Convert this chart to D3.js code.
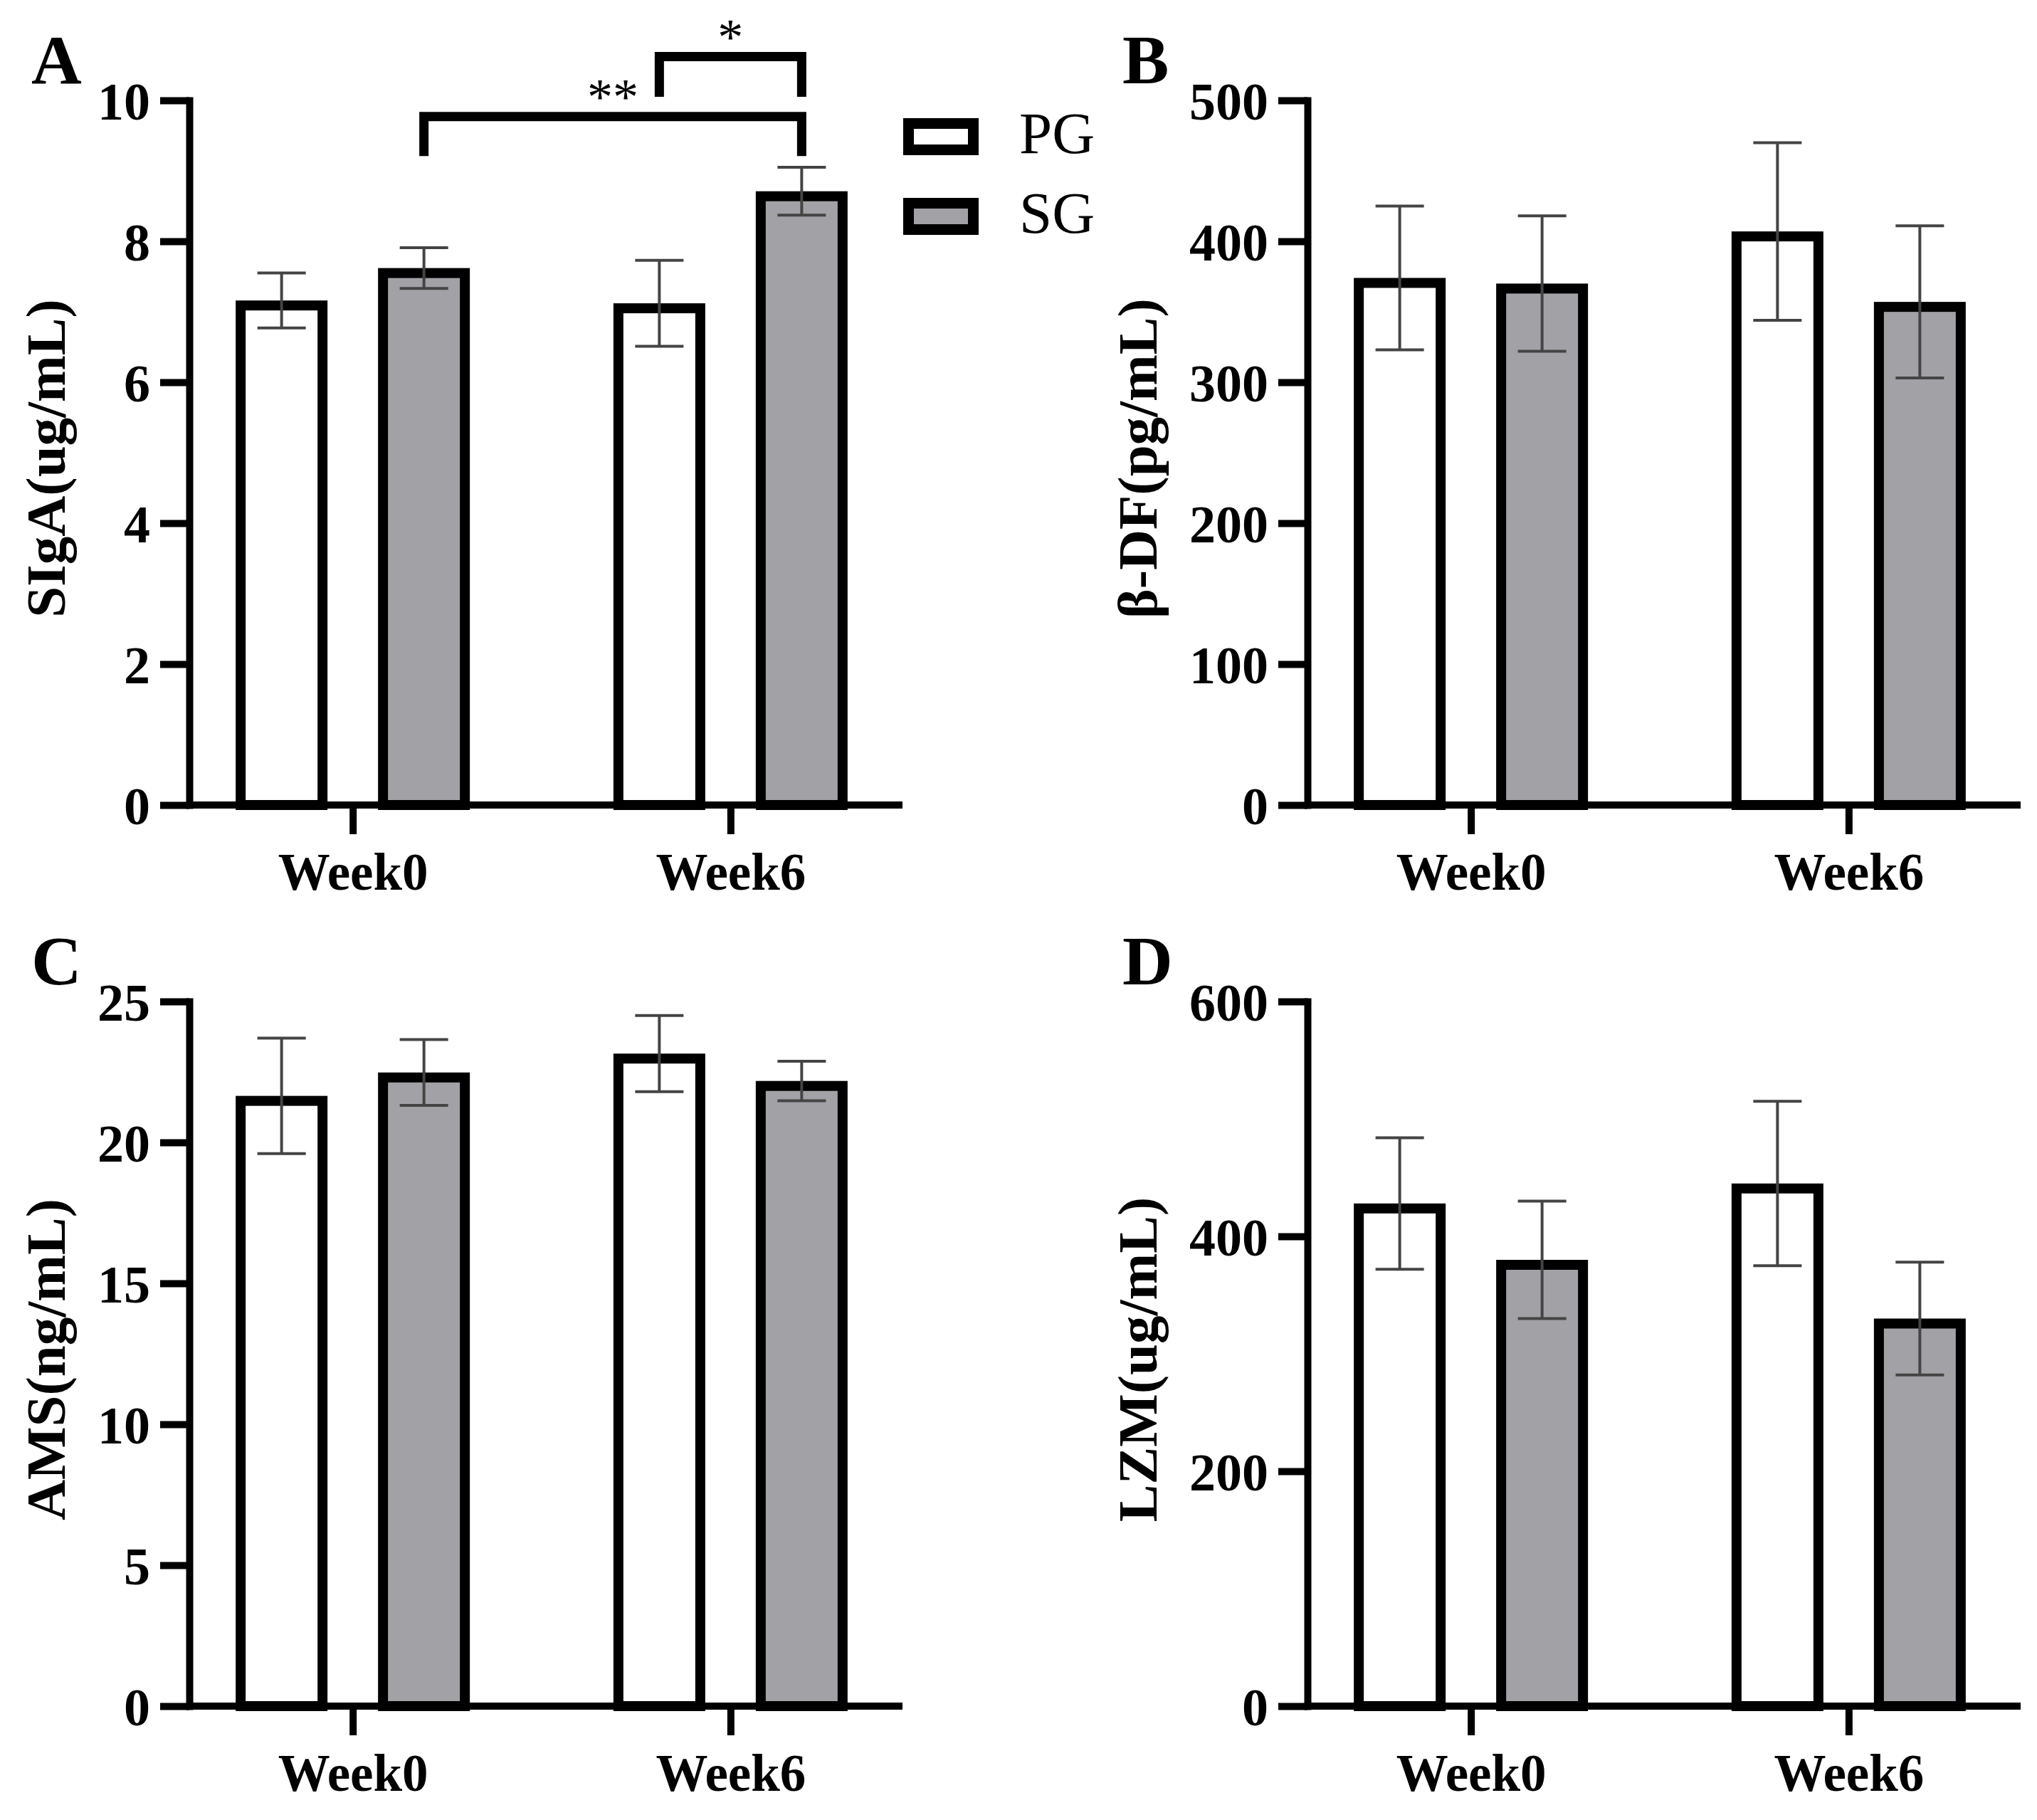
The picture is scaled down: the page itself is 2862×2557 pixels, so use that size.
<!DOCTYPE html>
<html>
<head>
<meta charset="utf-8">
<script src="https://cdn.jsdelivr.net/npm/d3@7"></script>
<style>
    body { margin: 0; background: #fff; }
    text { font-family: "Liberation Serif", "Times New Roman", serif; }
</style>
</head>
<body>
<script>
// groups on the x axis and the two series
var groups = ["Week0", "Week6"];
var series = ["PG", "SG"];

// A: SIgA
var sigaPG = [7.16, 7.12], sigaPGErr = [0.39, 0.61];
var sigaSG = [7.62, 8.71], sigaSGErr = [0.29, 0.34];
var sigaTicks = [0, 2, 4, 6, 8, 10];

// B: beta-DF
var dfPG = [374, 407], dfPGErr = [51, 63];
var dfSG = [370, 357], dfSGErr = [48, 54];
var dfTicks = [0, 100, 200, 300, 400, 500];

// C: AMS
var amsPG = [21.65, 23.15], amsPGErr = [2.05, 1.35];
var amsSG = [22.48, 22.18], amsSGErr = [1.17, 0.7];
var amsTicks = [0, 5, 10, 15, 20, 25];

// D: LZM
var lzmPG = [428, 445], lzmPGErr = [56, 70];
var lzmSG = [380, 330], lzmSGErr = [50, 48];
var lzmTicks = [0, 200, 400, 600];

// significance brackets for panel A
var sigLabels = ["**", "*"];
var sigFrom = [["Week0", "SG"], ["Week6", "PG"]];
var sigTo = [["Week6", "SG"], ["Week6", "SG"]];
var sigLevel = [9.77, 10.62];
var sigLeg = [9.21, 10.05];

var W = 2862, H = 2557;
var svg = d3.select("body").append("svg")
    .attr("width", W)
    .attr("height", H)
    .style("background", "#fff");

var fillColor = { PG: "#ffffff", SG: "#a2a1a6" };
var barStroke = 14;
var axisLen = 1002;

function drawPanel(p) {
    var g = svg.append("g").attr("class", "panel");

    var y = d3.scaleLinear()
        .domain([0, p.max])
        .range([p.yBase, p.yTop]);

    // groups sit slightly left of symmetric spacing, as in the original
    var x = d3.scalePoint()
        .domain(groups)
        .range([p.x0 - 6, p.x0 + axisLen - 6])
        .padding(0.444);

    var xs = d3.scaleBand()
        .domain(series)
        .range([-164.5, 164.5])
        .paddingInner(0.355);

    var rows = [];
    groups.forEach(function (grp, i) {
        rows.push({ group: grp, s: "PG", v: p.pg[i], e: p.pgErr[i] });
        rows.push({ group: grp, s: "SG", v: p.sg[i], e: p.sgErr[i] });
    });

    // bars (outline drawn inside the bar's outer edge)
    g.selectAll(".bar")
        .data(rows)
        .enter()
        .append("rect")
        .attr("class", "bar")
        .attr("x", function (d) { return x(d.group) + xs(d.s) + barStroke / 2; })
        .attr("y", function (d) { return y(d.v) + barStroke / 2; })
        .attr("width", xs.bandwidth() - barStroke)
        .attr("height", function (d) { return y(0) - y(d.v) - barStroke / 2; })
        .style("fill", function (d) { return fillColor[d.s]; })
        .style("stroke", "#000")
        .style("stroke-width", barStroke);

    // error bars
    var eb = g.selectAll(".err")
        .data(rows)
        .enter()
        .append("g")
        .attr("class", "err")
        .attr("transform", function (d) {
            return "translate(" + (x(d.group) + xs(d.s) + xs.bandwidth() / 2) + ",0)";
        })
        .style("stroke", "#444")
        .style("stroke-width", 4);
    eb.append("line")
        .attr("x1", 0).attr("x2", 0)
        .attr("y1", function (d) { return y(d.v - d.e); })
        .attr("y2", function (d) { return y(d.v + d.e); });
    eb.append("line")
        .attr("x1", -34).attr("x2", 34)
        .attr("y1", function (d) { return y(d.v + d.e); })
        .attr("y2", function (d) { return y(d.v + d.e); });
    eb.append("line")
        .attr("x1", -34).attr("x2", 34)
        .attr("y1", function (d) { return y(d.v - d.e); })
        .attr("y2", function (d) { return y(d.v - d.e); });

    // y axis
    var yAxis = g.append("g")
        .attr("class", "axis")
        .attr("transform", "translate(" + p.x0 + ",0)")
        .call(d3.axisLeft(y).tickValues(p.ticks).tickSize(41).tickSizeOuter(0).tickPadding(14));
    yAxis.select(".domain")
        .style("stroke", "#000")
        .style("stroke-width", 10)
        .style("stroke-linecap", "square");
    yAxis.selectAll(".tick line")
        .style("stroke", "#000")
        .style("stroke-width", 10);
    yAxis.selectAll(".tick text")
        .attr("dy", "0.36em")
        .style("font-size", "74px")
        .style("font-weight", "bold")
        .style("fill", "#000");

    // x axis (domain line drawn by hand so it starts at the y axis)
    var xAxis = g.append("g")
        .attr("class", "axis")
        .attr("transform", "translate(0," + p.yBase + ")")
        .call(d3.axisBottom(x).tickSize(41).tickSizeOuter(0));
    xAxis.select(".domain").remove();
    xAxis.append("line")
        .attr("x1", p.x0)
        .attr("x2", p.x0 + axisLen)
        .style("stroke", "#000")
        .style("stroke-width", 10);
    xAxis.selectAll(".tick line")
        .style("stroke", "#000")
        .style("stroke-width", 10);
    xAxis.selectAll(".tick text")
        .attr("y", 119)
        .attr("dy", null)
        .style("font-size", "73px")
        .style("font-weight", "bold")
        .style("fill", "#000");

    // y title, placed left of the widest tick label
    var maxW = 0;
    yAxis.selectAll(".tick text").each(function () {
        maxW = Math.max(maxW, this.getComputedTextLength());
    });
    var tx = p.x0 - 55 - maxW - 46;
    var ty = (p.yTop + p.yBase) / 2 + 8;
    g.append("text")
        .attr("class", "ytitle")
        .attr("transform", "translate(" + tx + "," + ty + ") rotate(-90)")
        .attr("text-anchor", "middle")
        .style("font-size", "79px")
        .style("font-weight", "bold")
        .text(p.title);

    // panel letter
    g.append("text")
        .attr("class", "letter")
        .attr("x", p.letterX)
        .attr("y", p.yTop - 24)
        .style("font-size", "98px")
        .style("font-weight", "bold")
        .text(p.letter);

    return { x: x, xs: xs, y: y, g: g };
}

var pA = drawPanel({ x0: 266, yTop: 141, yBase: 1131, max: 10, ticks: sigaTicks,
    pg: sigaPG, pgErr: sigaPGErr, sg: sigaSG, sgErr: sigaSGErr,
    title: "SIgA(ug/mL)", letter: "A", letterX: 44 });
drawPanel({ x0: 1837, yTop: 141, yBase: 1131, max: 500, ticks: dfTicks,
    pg: dfPG, pgErr: dfPGErr, sg: dfSG, sgErr: dfSGErr,
    title: "β-DF(pg/mL)", letter: "B", letterX: 1577 });
drawPanel({ x0: 266, yTop: 1407, yBase: 2397, max: 25, ticks: amsTicks,
    pg: amsPG, pgErr: amsPGErr, sg: amsSG, sgErr: amsSGErr,
    title: "AMS(ng/mL)", letter: "C", letterX: 44 });
drawPanel({ x0: 1837, yTop: 1407, yBase: 2397, max: 600, ticks: lzmTicks,
    pg: lzmPG, pgErr: lzmPGErr, sg: lzmSG, sgErr: lzmSGErr,
    title: "LZM(ug/mL)", letter: "D", letterX: 1577 });

// significance brackets in panel A
function barCenter(k) {
    return pA.x(k[0]) + pA.xs(k[1]) + pA.xs.bandwidth() / 2;
}
sigLabels.forEach(function (lab, i) {
    var x1 = barCenter(sigFrom[i]), x2 = barCenter(sigTo[i]);
    var yt = pA.y(sigLevel[i]), yb = pA.y(sigLeg[i]);
    pA.g.append("path")
        .attr("class", "bracket")
        .attr("d", "M" + x1 + "," + yb + "V" + yt + "H" + x2 + "V" + yb)
        .style("fill", "none")
        .style("stroke", "#000")
        .style("stroke-width", 13)
        .style("stroke-linejoin", "miter");
    pA.g.append("text")
        .attr("class", "sig")
        .attr("x", (x1 + x2) / 2)
        .attr("y", yt - 4)
        .attr("text-anchor", "middle")
        .style("font-size", "72px")
        .text(lab);
});

// legend
var legend = svg.append("g").attr("class", "legend");
series.forEach(function (s, i) {
    var ly = 166 + i * 112;
    legend.append("rect")
        .attr("x", 1269 + 7.5)
        .attr("y", ly + 7.5)
        .attr("width", 106 - 15)
        .attr("height", 52 - 15)
        .style("fill", fillColor[s])
        .style("stroke", "#000")
        .style("stroke-width", 15);
    legend.append("text")
        .attr("x", 1432)
        .attr("y", ly + 49)
        .style("font-size", "83px")
        .text(s);
});
</script>
</body>
</html>
